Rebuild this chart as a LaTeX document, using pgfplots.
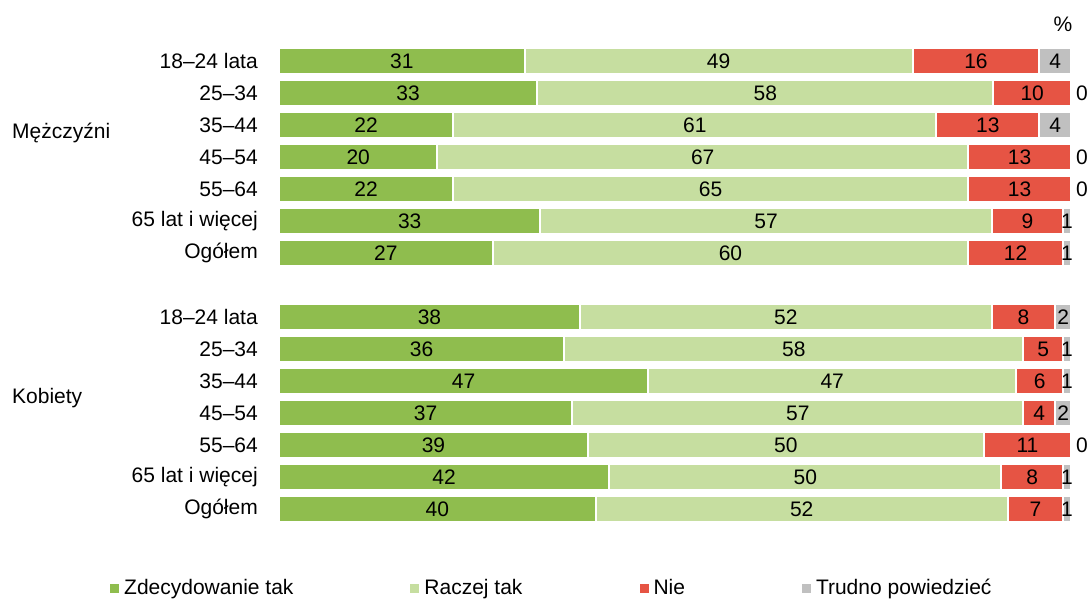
\documentclass[border=0pt]{standalone}
\usepackage{fontspec}
\setmainfont{Liberation Sans}
\usepackage{pgfplots}
\usepackage{pgfplotstable}
\pgfplotsset{compat=1.18}
\definecolor{cZ}{RGB}{143,189,78}
\definecolor{cR}{RGB}{198,222,160}
\definecolor{cN}{RGB}{230,84,68}
\definecolor{cT}{RGB}{192,192,192}
\newcommand{\ff}{\fontsize{21}{25}\selectfont}
\pgfplotstableread{
y a b c d la lb lc ld
0 31 49 16 4 31 49 16 4
1 32.6 57.6 9.8 0.01 33 58 10 0
2 22 61 13 4 22 61 13 4
3 20 67 13 0.01 20 67 13 0
4 22 65 13 0.01 22 65 13 0
5 33 57 9 1 33 57 9 1
6 27 60 12 1 27 60 12 1
8 38 52 8 2 38 52 8 2
9 36 58 5 1 36 58 5 1
10 46.6 46.5 5.9 1 47 47 6 1
11 37 57 4 2 37 57 4 2
12 39 50 11 0.01 39 50 11 0
13 41.7 49.5 7.8 1 42 50 8 1
14 40 52 7 1 40 52 7 1
}\data
\begin{document}
\begin{tikzpicture}[font=\ff]
\path[use as bounding box] (0,0) rectangle (1089pt,-599pt);
\begin{axis}[
  at={(279pt,-525pt)}, anchor=south west,
  scale only axis, width=792pt, height=480pt,
  xmin=0, xmax=100, ymin=-0.5, ymax=14.5, y dir=reverse,
  xbar stacked, bar width=26pt,
  axis line style={draw=none}, tick style={draw=none},
  xtick=\empty,
  ytick={0,1,2,3,4,5,6,8,9,10,11,12,13,14},
  yticklabels={18–24 lata,25–34\hspace{6pt},35–44,45–54,55–64,65 lat i więcej,Ogółem,
               18–24 lata,25–34\hspace{6pt},35–44,45–54,55–64,65 lat i więcej,Ogółem},
  yticklabel style={font=\ff, inner sep=0pt, xshift=-21pt},
  clip=false,
  point meta=explicit symbolic,
  nodes near coords,
  every node near coord/.append style={font=\ff, text=black, inner sep=0pt},
  legend columns=4,
  legend style={at={(-0.2159,-0.131)}, anchor=west, draw=none, inner sep=0pt, font=\ff,
    nodes={inner sep=0pt},
    /tikz/every odd column/.append style={column sep=3pt},
    /tikz/every even column/.append style={column sep=115pt}},
  legend image code/.code={\fill[#1] (0pt,-6pt) rectangle (11pt,5pt);},
  legend cell align=left,
]
\addplot[fill=cZ, draw=white, line width=2pt] table[x=a, y=y, meta=la] {\data};
\addplot[fill=cR, draw=white, line width=2pt] table[x=b, y=y, meta=lb] {\data};
\addplot[fill=cN, draw=white, line width=2pt] table[x=c, y=y, meta=lc] {\data};
\addplot[fill=cT, draw=white, line width=2pt,
  nodes near coords={\ifnum\pgfplotspointmeta=0 \hspace*{22pt}0\else\pgfplotspointmeta\fi}]
  table[x=d, y=y, meta=ld] {\data};
\legend{Zdecydowanie tak, Raczej tak, Nie, Trudno powiedzieć}
\end{axis}
\node[anchor=base, inner sep=0pt] at (1063pt,-32pt) {\%};
\node[anchor=base west, inner sep=0pt] at (12pt,-139pt) {Mężczyźni};
\node[anchor=base west, inner sep=0pt] at (12pt,-403pt) {Kobiety};
\end{tikzpicture}
\end{document}
